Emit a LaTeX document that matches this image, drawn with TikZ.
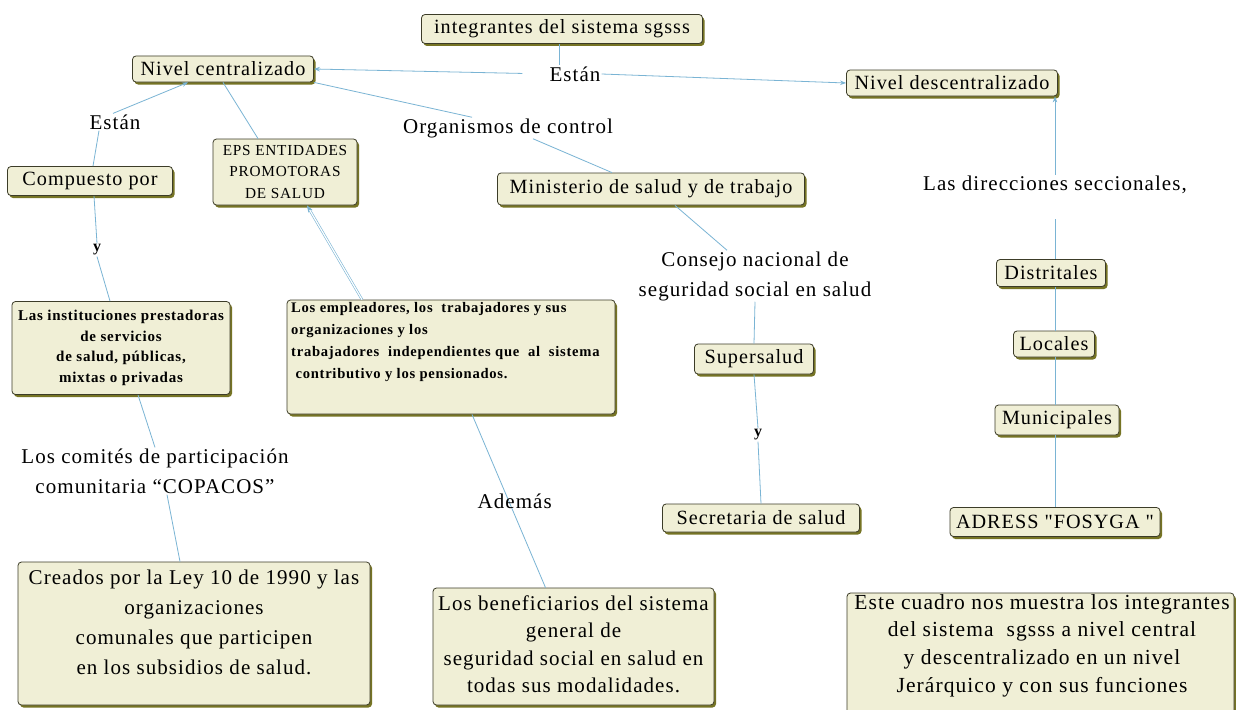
\documentclass[tikz,border=0pt]{standalone}
\usepackage{fontspec}
\setmainfont{Liberation Serif}[LetterSpace=5, Ligatures=TeXOff]
\usetikzlibrary{arrows.meta,shadows,calc}
\definecolor{boxfill}{RGB}{240,239,214}
\definecolor{boxdraw}{RGB}{60,60,40}
\definecolor{boxshadow}{RGB}{118,116,36}
\definecolor{conn}{RGB}{122,180,212}
\newcommand{\fs}[2]{\fontsize{#1}{#2}\selectfont}
\tikzset{
  box/.style={draw=boxdraw, fill=boxfill, rounded corners=3.5pt, line width=0.8pt,
    drop shadow={shadow xshift=2pt, shadow yshift=-2.5pt, fill=boxshadow, opacity=1},
    inner sep=2pt, align=center, font=\fs{20.2}{24}},
  plainbox/.style={draw=boxdraw, fill=boxfill, rounded corners=3.5pt, line width=0.8pt,
    drop shadow={shadow xshift=2pt, shadow yshift=-2.5pt, fill=boxshadow, opacity=1},
    inner sep=0pt},
  lbl/.style={inner sep=1pt, align=center, font=\fs{21}{30}},
  ylbl/.style={inner sep=1pt, font=\fs{16}{18}\bfseries},
  txt/.style={inner sep=0pt, align=center},
  conn/.style={draw=conn, line width=0.8pt},
  arr/.style={conn, -{Stealth[length=6pt,width=4.5pt]}},
}
\begin{document}
\begin{tikzpicture}[x=1pt,y=-1pt]
\useasboundingbox[fill=white] (0,0) rectangle (1236,709);
% ---- boxes
\node[box, minimum width=281pt, minimum height=29pt] (int) at (562,29) {integrantes del sistema sgsss};
\node[box, minimum width=181pt, minimum height=26pt] (cen) at (223,69) {Nivel centralizado};
\node[box, minimum width=211pt, minimum height=26pt] (des) at (952,83) {Nivel descentralizado};
\node[box, minimum width=307pt, minimum height=32pt] (min) at (651,189) {Ministerio de salud y de trabajo};
\node[box, minimum width=119pt, minimum height=30pt] (sup) at (754,359) {Supersalud};
\node[box, minimum width=197pt, minimum height=28pt] (sec) at (761,518) {Secretaria de salud};
\node[box, minimum width=165pt, minimum height=29pt] (comp) at (90,181) {Compuesto por};
\node[box, minimum width=218pt, minimum height=93pt, font=\fs{15}{20.5}\bfseries] (inst) at (121,348)
  {Las instituciones prestadoras\\de servicios\\de salud, públicas,\\mixtas o privadas};
\node[box, minimum width=144pt, minimum height=66pt, font=\fs{15.3}{21.5}] (eps) at (285,172)
  {EPS ENTIDADES\\PROMOTORAS\\DE SALUD};
\node[plainbox, minimum width=328pt, minimum height=114pt] (emp) at (451,357) {};
\node[txt, anchor=north west, align=left, font=\fs{14.6}{22}\bfseries] (empt) at (291,302)
  {Los empleadores, los\ \ trabajadores y sus\\organizaciones y los\\trabajadores\ \ independientes que\ \ al\ \ sistema\\\ contributivo y los pensionados.};
\node[plainbox, minimum width=352pt, minimum height=143pt] (cre) at (194,633.5) {};
\node[txt, font=\fs{21}{30}] (cret) at (194,622)
  {Creados por la Ley 10 de 1990 y las\\organizaciones\\comunales que participen\\en los subsidios de salud.};
\node[plainbox, minimum width=281pt, minimum height=117pt] (ben) at (573.5,646.5) {};
\node[txt, font=\fs{21}{27.5}] (bent) at (573.5,644)
  {Los beneficiarios del sistema\\general de\\seguridad social en salud en\\todas sus modalidades.};
\node[box, minimum width=109pt, minimum height=27pt] (dis) at (1051,273) {Distritales};
\node[box, minimum width=81pt, minimum height=26pt] (loc) at (1054,344) {Locales};
\node[box, minimum width=124pt, minimum height=30pt] (mun) at (1057,420) {Municipales};
\node[box, minimum width=210pt, minimum height=29pt] (adr) at (1055,522) {ADRESS "FOSYGA "};
\node[plainbox, minimum width=387pt, minimum height=132pt] (este) at (1040.5,659) {};
\node[txt, anchor=north, font=\fs{21.5}{27.7}] (estet) at (1042,594)
  {Este cuadro nos muestra los integrantes\\del sistema\ \ sgsss a nivel central\\y descentralizado en un nivel\\Jerárquico y con sus funciones};
% ---- labels
\node[lbl] (estan1) at (575,74) {Están};
\node[lbl] (org) at (508,128) {Organismos de control};
\node[lbl] (con) at (755,276) {Consejo nacional de\\seguridad social en salud};
\node[ylbl] (y2) at (758,435) {y};
\node[lbl] (estan2) at (115,122) {Están};
\node[ylbl] (y1) at (97,250) {y};
\node[lbl] (com) at (155,471) {Los comités de participación\\comunitaria “COPACOS”};
\node[lbl] (dir) at (1055,185) {Las direcciones seccionales,};
% ---- connectors
\draw[conn] ([xshift=-3pt]int.south) -- ([xshift=-3pt]int.south |- estan1.north);
\draw[arr, shorten <=26pt] (estan1.west) -- (cen.east);
\draw[arr] (estan1.east) -- (des.west);
\draw[conn] (cen.south east) -- ([xshift=-36pt]org.north);
\draw[conn] ([xshift=25pt]org.south) -- ([xshift=-39pt]min.north);
\draw[conn] ([xshift=24pt]min.south) -- ([xshift=-28pt]con.north);
\draw[conn] (con.south) -- (sup.north);
\draw[conn] (sup.south) -- (y2.north);
\draw[conn] (y2.south) -- (sec.north);
\draw[arr] ([xshift=-2pt]estan2.north) -- ([xshift=-35pt]cen.south);
\draw[conn] ([xshift=-16pt]estan2.south) -- ([xshift=3pt]comp.north);
\draw[conn] ([xshift=4pt]comp.south) -- (y1.north);
\draw[conn] (y1.south) -- ([xshift=-11pt]inst.north);
\draw[conn] ([xshift=17pt]inst.south) -- (com.north);
\draw[conn] ([xshift=12pt]com.south) -- ([xshift=-14pt]cre.north);
\draw[conn] (cen.south) -- ([xshift=-27pt]eps.north);
\draw[conn, double=white, double distance=1.2pt, line width=0.6pt, -{Stealth[length=7pt,width=5pt]}]
  ([xshift=-89pt]emp.north) -- ([xshift=22pt]eps.south);
\draw[conn] ([xshift=21pt]emp.south) -- node[pos=0.5, xshift=6pt, lbl, text=black] (ade) {Además} ([xshift=-28pt]ben.north);
\draw[arr] (dir.north) -- (dir.north |- des.south);
\draw[conn, shorten <=24pt] (dir.south) -- (dir.south |- dis.north);
\draw[conn] (dir.south |- dis.south) -- (dir.south |- loc.north);
\draw[conn] (dir.south |- loc.south) -- (dir.south |- mun.north);
\draw[conn] (dir.south |- mun.south) -- (dir.south |- adr.north);
\end{tikzpicture}
\end{document}
